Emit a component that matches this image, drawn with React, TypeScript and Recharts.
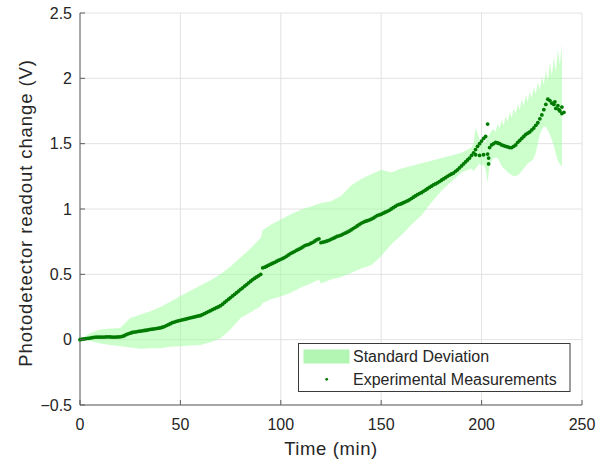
import { ComposedChart, Area, Scatter, XAxis, YAxis, CartesianGrid } from 'recharts'

// standard deviation band (min, V)
const bandTime = [
  0, 5, 10, 15, 20, 25, 30, 35, 40, 45, 50, 55, 60, 65, 70, 75, 80, 85, 90, 91,
  95, 100, 105, 110, 115, 119, 120, 125, 130, 135, 140, 145, 150, 155, 160, 165, 170, 175, 180, 185,
  190, 195, 196, 197, 198, 199, 200, 201, 202, 203, 204, 205, 206, 207, 208, 209, 210, 211, 212, 213,
  214, 215, 216, 217, 218, 219, 220, 221, 222, 223, 224, 225, 226, 227, 228, 229, 230, 231, 232, 233,
  234, 235, 236, 237, 238, 239, 240,
]
const bandLow = [
  0, -0.01, -0.03, -0.04, -0.05, -0.06, -0.07, -0.065, -0.065, -0.055, -0.05, -0.045, -0.04, -0.02, 0.01, 0.08, 0.165, 0.21, 0.255, 0.28,
  0.31, 0.33, 0.36, 0.4, 0.43, 0.46, 0.43, 0.46, 0.48, 0.51, 0.545, 0.57, 0.64, 0.73, 0.8, 0.88, 0.95, 1.05, 1.14, 1.21,
  1.28, 1.31, 1.29, 1.31, 1.33, 1.35, 1.33, 1.34, 1.3, 1.2, 1.34, 1.37, 1.39, 1.39, 1.39, 1.36, 1.33, 1.31, 1.3, 1.28,
  1.27, 1.26, 1.25, 1.25, 1.26, 1.27, 1.29, 1.31, 1.33, 1.35, 1.36, 1.37, 1.39, 1.43, 1.5, 1.57, 1.61, 1.63, 1.63, 1.6,
  1.57, 1.53, 1.48, 1.42, 1.37, 1.34, 1.33,
]
const bandHigh = [
  0, 0.05, 0.077, 0.085, 0.09, 0.165, 0.19, 0.217, 0.25, 0.29, 0.335, 0.375, 0.415, 0.455, 0.5, 0.56, 0.63, 0.7, 0.78, 0.84,
  0.88, 0.92, 0.96, 0.995, 1.02, 1.04, 1.045, 1.06, 1.1, 1.18, 1.23, 1.265, 1.3, 1.28, 1.31, 1.33, 1.35, 1.37, 1.39, 1.41,
  1.43, 1.47, 1.5, 1.62, 1.58, 1.53, 1.52, 1.5, 1.52, 1.55, 1.57, 1.6, 1.61, 1.59, 1.65, 1.62, 1.68, 1.64, 1.71, 1.67,
  1.74, 1.7, 1.77, 1.73, 1.8, 1.76, 1.84, 1.79, 1.87, 1.82, 1.9, 1.85, 1.93, 1.88, 1.97, 1.91, 2.01, 1.95, 2.06, 1.98,
  2.12, 2.02, 2.16, 2.05, 2.22, 2.1, 2.26,
]

// experimental measurements (min, V)
const measTime = [
  0, 2, 4, 6, 8, 10, 12, 14, 16, 18, 20, 22, 24, 26, 28, 30, 32, 34, 36, 38,
  40, 42, 44, 46, 48, 50, 52, 54, 56, 58, 60, 62, 64, 66, 68, 70, 72, 74, 76, 78,
  80, 82, 84, 86, 88, 90, 92, 94, 96, 98, 100, 102, 104, 106, 108, 110, 112, 114, 116, 118,
  120, 122, 124, 126, 128, 130, 132, 134, 136, 138, 140, 142, 144, 146, 148, 150, 152, 154, 156, 158,
  160, 162, 164, 166, 168, 170, 172, 174, 176, 178, 180, 182, 184, 186, 188, 190, 192, 194, 196, 198,
  200, 202, 204, 206, 208, 210, 212, 214, 216, 218, 220, 222, 224, 226, 228, 230, 232, 234, 236, 238,
  240,
  1, 3, 5, 7, 9, 11, 13, 15, 17, 19, 21, 23, 25, 27, 29, 31, 33, 35, 37, 39,
  41, 43, 45, 47, 49, 51, 53, 55, 57, 59, 61, 63, 65, 67, 69, 71, 73, 75, 77, 79,
  81, 83, 85, 87, 89, 91, 93, 95, 97, 99, 101, 103, 105, 107, 109, 111, 113, 115, 117, 119,
  121, 123, 125, 127, 129, 131, 133, 135, 137, 139, 141, 143, 145, 147, 149, 151, 153, 155, 157, 159,
  161, 163, 165, 167, 169, 171, 173, 175, 177, 179, 181, 183, 185, 187, 189, 191, 193, 197, 199, 201,
  195, 197, 199, 201, 203, 203, 203.5, 203.5,
  205, 207, 209, 211, 213, 215, 217, 219, 221, 223, 225, 227, 229, 231,
  233, 235, 236.5, 237, 238.5, 239, 240, 241,
]
const measValue = [
  0, 0.005, 0.01, 0.015, 0.02, 0.02, 0.02, 0.022, 0.02, 0.02, 0.022, 0.03, 0.045, 0.055, 0.06, 0.065, 0.07, 0.075, 0.08, 0.085,
  0.09, 0.1, 0.115, 0.13, 0.14, 0.148, 0.155, 0.163, 0.17, 0.178, 0.185, 0.2, 0.215, 0.23, 0.245, 0.26, 0.285, 0.31, 0.335, 0.36,
  0.385, 0.41, 0.435, 0.46, 0.48, 0.5, 0.555, 0.57, 0.585, 0.6, 0.615, 0.63, 0.65, 0.668, 0.685, 0.7, 0.72, 0.73, 0.745, 0.765,
  0.742, 0.75, 0.76, 0.775, 0.79, 0.8, 0.815, 0.83, 0.85, 0.87, 0.89, 0.905, 0.915, 0.93, 0.95, 0.96, 0.975, 0.99, 1.01, 1.03,
  1.04, 1.055, 1.07, 1.09, 1.11, 1.125, 1.145, 1.165, 1.185, 1.2, 1.22, 1.24, 1.26, 1.275, 1.3, 1.33, 1.36, 1.39, 1.43, 1.48,
  1.52, 1.555, 1.47, 1.5, 1.505, 1.49, 1.48, 1.47, 1.48, 1.51, 1.54, 1.57, 1.59, 1.62, 1.66, 1.72, 1.8, 1.83, 1.8, 1.79,
  1.78,
  0.003, 0.008, 0.012, 0.018, 0.02, 0.02, 0.021, 0.021, 0.02, 0.021, 0.025, 0.038, 0.05, 0.058, 0.063, 0.068, 0.072, 0.078, 0.083, 0.088,
  0.095, 0.108, 0.122, 0.135, 0.144, 0.152, 0.159, 0.167, 0.174, 0.182, 0.192, 0.207, 0.222, 0.237, 0.252, 0.272, 0.297, 0.322, 0.347, 0.372,
  0.397, 0.422, 0.447, 0.47, 0.49, 0.55, 0.562, 0.578, 0.592, 0.608, 0.622, 0.64, 0.66, 0.676, 0.692, 0.71, 0.725, 0.738, 0.755, 0.772,
  0.746, 0.755, 0.768, 0.782, 0.795, 0.808, 0.822, 0.84, 0.86, 0.88, 0.898, 0.91, 0.922, 0.94, 0.955, 0.968, 0.982, 1.0, 1.02, 1.035,
  1.048, 1.062, 1.08, 1.1, 1.118, 1.135, 1.155, 1.175, 1.192, 1.21, 1.23, 1.25, 1.268, 1.288, 1.315, 1.345, 1.375, 1.455, 1.5, 1.54,
  1.41, 1.415, 1.41, 1.415, 1.42, 1.65, 1.39, 1.345,
  1.49, 1.51, 1.5, 1.485, 1.475, 1.47, 1.49, 1.525, 1.555, 1.58, 1.605, 1.64, 1.69, 1.76,
  1.84, 1.81, 1.82, 1.77, 1.76, 1.75, 1.73, 1.74,
]

const xTicks = [0, 50, 100, 150, 200, 250]
const yTicks = [-0.5, 0, 0.5, 1, 1.5, 2, 2.5]

const bandData = bandTime.map((t, i) => ({ t, band: [bandLow[i], bandHigh[i]] }))
const measData = measTime.map((t, i) => ({ t, v: measValue[i] }))

const FONT = '"Liberation Sans", Arial, Helvetica, sans-serif'
const TEXT = '#262626'
const AXIS = '#5e5e5e'
const DOT = '#007a00'

const fmt = (v: number) => String(v).replace('-', '\u2212')

function XTick({ x, y, payload }: any) {
  return (
    <g>
      <line x1={x} x2={x} y1={y} y2={y - 5} stroke={AXIS} />
      <text x={x} y={y + 25} textAnchor="middle" fontSize={16} fill={TEXT} fontFamily={FONT}>
        {fmt(payload.value)}
      </text>
    </g>
  )
}

function YTick({ x, y, payload }: any) {
  return (
    <g>
      <line x1={x} x2={x + 5} y1={y} y2={y} stroke={AXIS} />
      <text x={x - 8} y={y + 5.5} textAnchor="end" fontSize={16} fill={TEXT} fontFamily={FONT}>
        {fmt(payload.value)}
      </text>
    </g>
  )
}

export default function App() {
  return (
    <div style={{ position: 'absolute', left: 0, top: 0, width: 598, height: 463, background: '#fff' }}>
      <ComposedChart
        width={598}
        height={463}
        data={bandData}
        margin={{ top: 13, right: 16, bottom: 0, left: 0 }}
      >
        <CartesianGrid stroke="#e2e2e2" />
        <Area
          dataKey="band"
          type="linear"
          stroke="none"
          fill="#99ff99"
          fillOpacity={0.5}
          isAnimationActive={false}
        />
        <Scatter
          data={measData}
          dataKey="v"
          isAnimationActive={false}
          shape={(p: any) => <circle cx={p.cx} cy={p.cy} r={1.9} fill={DOT} />}
        />
        <XAxis
          type="number"
          dataKey="t"
          domain={[0, 250]}
          ticks={xTicks}
          height={58}
          tickLine={false}
          tickSize={0}
          tickMargin={0}
          axisLine={{ stroke: AXIS }}
          tick={<XTick />}
        />
        <YAxis
          type="number"
          domain={[-0.5, 2.5]}
          ticks={yTicks}
          width={80}
          tickLine={false}
          tickSize={0}
          tickMargin={0}
          axisLine={{ stroke: AXIS }}
          tick={<YTick />}
        />
      </ComposedChart>
      <svg
        width={598}
        height={463}
        style={{ position: 'absolute', left: 0, top: 0, pointerEvents: 'none' }}
        fontFamily={FONT}
      >
        <text
          x={331}
          y={455}
          textAnchor="middle"
          fontSize={18.5}
          letterSpacing={0.6}
          fill={TEXT}
        >
          Time (min)
        </text>
        <text
          x={31.5}
          y={213}
          textAnchor="middle"
          fontSize={18.5}
          letterSpacing={0.9}
          fill={TEXT}
          transform="rotate(-90 31.5 213)"
        >
          Photodetector readout change (V)
        </text>
        <rect x={298.5} y={343.5} width={271.5} height={48} fill="#fff" stroke="#3a3a3a" />
        <rect x={303.5} y={349.5} width={46} height={14} fill="#b3f5b3" />
        <text x={353} y={362} fontSize={16} fill={TEXT}>Standard Deviation</text>
        <circle cx={326.7} cy={379.3} r={1.4} fill={DOT} />
        <text x={353} y={385} fontSize={16} fill={TEXT}>Experimental Measurements</text>
      </svg>
    </div>
  )
}
